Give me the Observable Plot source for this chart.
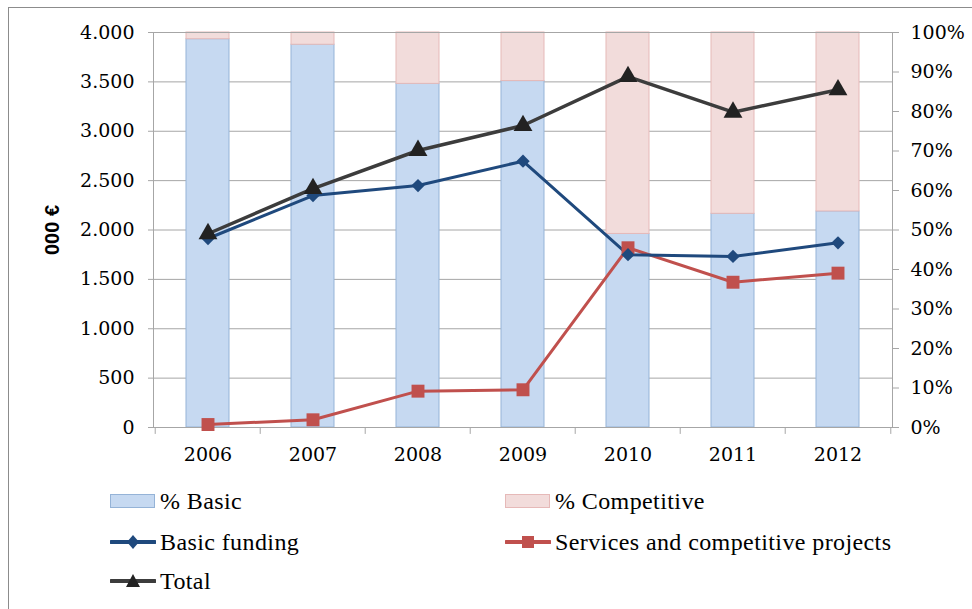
<!DOCTYPE html>
<html><head><meta charset="utf-8">
<script src="https://cdn.jsdelivr.net/npm/d3@7"></script>
<script src="https://cdn.jsdelivr.net/npm/@observablehq/plot@0.6"></script>
<style>
body{margin:0;background:#fff;}
#wrap{position:relative;width:972px;height:609px;overflow:hidden;background:#fff;}
#border{position:absolute;left:8px;top:7px;width:2000px;height:2000px;border:1.5px solid #8c8c8c;}
#chart{position:absolute;left:0;top:0;}
#chart svg text{font-family:"DejaVu Serif","Liberation Serif",serif;}
.lg{position:absolute;font-family:"Liberation Serif","DejaVu Serif",serif;font-size:24px;color:#000;line-height:26px;white-space:nowrap;}
.lg svg{vertical-align:middle;margin-right:4px;}
#ytitle{position:absolute;left:52px;top:230px;transform:translate(-50%,-50%) rotate(-90deg);font-family:"Liberation Sans",Arial,sans-serif;font-weight:bold;font-size:20px;white-space:nowrap;}
</style></head>
<body>
<div id="wrap">
<div id="border"></div>
<div id="chart"></div>
<div id="ytitle">000 €</div>
<div id="legend"></div>
</div>
<script>
const years = ["2006","2007","2008","2009","2010","2011","2012"];
const basicFunding = [1914, 2349, 2450, 2697, 1750, 1732, 1870];
const services = [30, 78, 368, 382, 1820, 1471, 1563];
const total = [1962, 2420, 2805, 3058, 3554, 3193, 3420];
const pctBasic = [98.3, 96.9, 87.0, 87.7, 49.0, 54.1, 54.7];
const pctCompetitive = [1.7, 3.1, 13.0, 12.3, 51.0, 45.9, 45.3];
const leftTicks = [0, 500, 1000, 1500, 2000, 2500, 3000, 3500, 4000];
const rightTicks = [0, 10, 20, 30, 40, 50, 60, 70, 80, 90, 100];

const colBasicFill = "#c6d9f1", colBasicStroke = "#95b3d7";
const colCompFill = "#f2dcdb", colCompStroke = "#e6b9b8";
const colBlue = "#1f497d", colRed = "#c0504d", colTotal = "#3c3c3c", colTri = "#222";
const gridCol = "#a6a6a6";

const pctToY = p => p * 40; // 100% on the right axis = 4000 on the left
const rows = years.map((y, i) => ({
  year: y, basic: basicFunding[i], services: services[i], total: total[i],
  pb: pctBasic[i], pc: pctCompetitive[i]
}));

const W = 972, mL = 153, mR = 80;
const step = (W - mL - mR) / years.length;
const fmt = d3.formatLocale({decimal: ",", thousands: ".", grouping: [3]}).format(",");
const tickFont = {fontSize: 19};

const plot = Plot.plot({
  width: W, height: 480,
  marginLeft: mL, marginRight: mR, marginTop: 32, marginBottom: 53,
  style: {fontSize: "18px", color: "#000", background: "transparent", overflow: "visible"},
  x: {type: "band", domain: years, paddingInner: 0.59, paddingOuter: 0.295, axis: null, label: null},
  y: {domain: [0, 4000], axis: null, label: null},
  marks: [
    Plot.gridY(leftTicks, {stroke: gridCol, strokeOpacity: 1, strokeWidth: 1}),
    Plot.barY(rows, {x: "year", y1: 0, y2: d => pctToY(d.pb), fill: colBasicFill, stroke: colBasicStroke, strokeWidth: 1}),
    Plot.barY(rows, {x: "year", y1: d => pctToY(d.pb), y2: d => pctToY(d.pb + d.pc), fill: colCompFill, stroke: colCompStroke, strokeWidth: 1}),
    Plot.frame({stroke: gridCol, strokeWidth: 1}),
    Plot.ruleX(years, {x: d => d, y1: 0, y2: -70, dx: -step / 2, stroke: gridCol}),
    Plot.ruleX(years.slice(-1), {x: d => d, y1: 0, y2: -70, dx: step / 2, stroke: gridCol}),
    Plot.axisY({ticks: leftTicks, anchor: "left", label: null, tickSize: 5, tickPadding: 14, tickFormat: fmt, stroke: gridCol, ...tickFont, fill: "#000", letterSpacing: 0.5}),
    Plot.axisY({ticks: rightTicks.map(pctToY), anchor: "right", label: null, tickSize: 6, tickPadding: 12, tickFormat: d => Math.round(d / 40) + "%", stroke: gridCol, ...tickFont, fill: "#000", letterSpacing: 0.5}),
    Plot.axisX({anchor: "bottom", label: null, tickSize: 0, tickPadding: 20, ...tickFont, fill: "#000", letterSpacing: 1}),
    Plot.line(rows, {x: "year", y: "total", stroke: colTotal, strokeWidth: 3.5}),
    Plot.line(rows, {x: "year", y: "services", stroke: colRed, strokeWidth: 3}),
    Plot.line(rows, {x: "year", y: "basic", stroke: colBlue, strokeWidth: 3}),
    Plot.dot(rows, {x: "year", y: "services", symbol: "square", r: 7.3, fill: colRed, stroke: "none"}),
    Plot.dot(rows, {x: "year", y: "basic", symbol: "diamond2", r: 6, fill: colBlue, stroke: "none"}),
    Plot.dot(rows, {x: "year", y: "total", symbol: "triangle", r: 7, fill: colTri, stroke: "none"})
  ]
});
document.getElementById("chart").appendChild(plot);

// Legend (HTML below the plot area)
const legendItems = [
  {label: "% Basic", type: "box", fill: colBasicFill, stroke: colBasicStroke, left: 110, top: 499},
  {label: "% Competitive", type: "box", fill: colCompFill, stroke: colCompStroke, left: 505, top: 499},
  {label: "Basic funding", type: "line", color: colBlue, marker: "diamond", left: 110, top: 540},
  {label: "Services and competitive projects", type: "line", color: colRed, marker: "square", left: 505, top: 540},
  {label: "Total", type: "line", color: colTotal, marker: "triangle", left: 110, top: 579}
];
const leg = document.getElementById("legend");
for (const it of legendItems) {
  const div = document.createElement("div");
  div.className = "lg";
  div.style.left = it.left + "px";
  div.style.top = (it.top - 13) + "px";
  let svg;
  if (it.type === "box") {
    svg = `<svg width="46" height="16"><rect x="0.5" y="1.5" width="44" height="13" fill="${it.fill}" stroke="${it.stroke}"/></svg>`;
  } else {
    let m = "";
    if (it.marker === "diamond") m = `<path d="M23,1 L29,8 L23,15 L17,8Z" fill="${it.color}"/>`;
    if (it.marker === "square") m = `<rect x="17" y="2" width="12" height="12" fill="${it.color}"/>`;
    if (it.marker === "triangle") m = `<path d="M23,1 L30,14 L16,14Z" fill="#222"/>`;
    svg = `<svg width="46" height="16"><line x1="1" x2="45" y1="8" y2="8" stroke="${it.color}" stroke-width="4" stroke-linecap="round"/>${m}</svg>`;
  }
  div.innerHTML = svg + `<span style="vertical-align:middle;letter-spacing:0.4px">${it.label}</span>`;
  leg.appendChild(div);
}
</script>
</body></html>
